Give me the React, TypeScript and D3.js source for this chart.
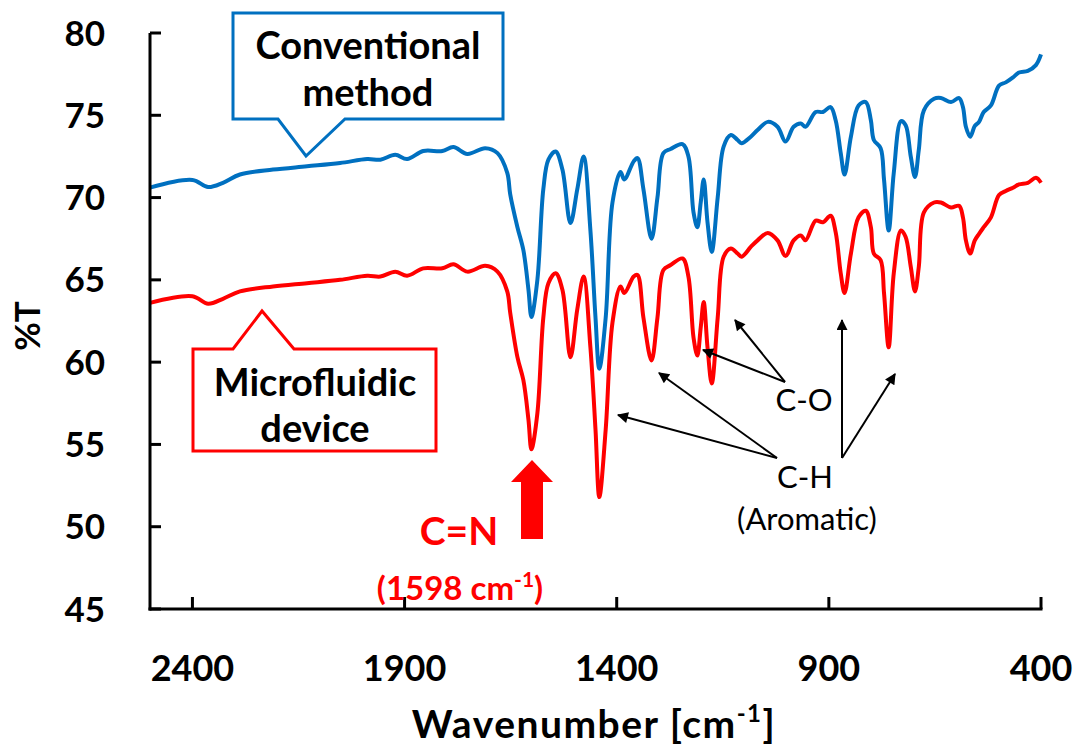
import React from "react";
import * as d3 from "d3";

// wavenumbers (cm-1), shared by both spectra
const wavenumbers = [
  2500, 2400, 2363, 2328, 2288, 2210, 2130, 2052, 1988, 1957, 1922, 1894, 1856, 1811, 1785, 1752,
  1710, 1681, 1658, 1651, 1634, 1620, 1608, 1601, 1587, 1573, 1561, 1544, 1528, 1509, 1493, 1478,
  1462, 1450, 1441, 1426, 1410, 1391, 1382, 1360, 1351, 1337, 1318, 1304, 1290, 1273, 1245, 1231,
  1219, 1210, 1202, 1195, 1186, 1176, 1162, 1148, 1131, 1115, 1106, 1084, 1068, 1044, 1021, 1002,
  983, 966, 955, 931, 914, 896, 884, 872, 863, 848, 830, 813, 801, 794, 778, 770, 759, 747, 730,
  719, 707, 697, 688, 676, 652, 636, 612, 593, 584, 577, 567, 556, 546, 535, 518, 499, 483, 466,
  452, 431, 412, 400,
];

const conventional = [
  70.6, 71.07, 70.64, 70.9, 71.4, 71.7, 71.9, 72.1, 72.34, 72.3, 72.6, 72.34, 72.83, 72.83, 73.07, 72.65,
  73.0, 72.7, 71.5, 70.2, 68.2, 66.8, 64.4, 62.75, 65.0, 70.5, 72.3, 72.8, 71.7, 68.45, 70.5, 72.5,
  68.0, 62.7, 59.6, 62.7, 69.7, 71.55, 71.1, 72.2, 72.4, 70.5, 67.5, 70.0, 72.7, 72.95, 73.25, 72.5,
  69.1, 68.2, 69.7, 71.1, 68.5, 66.7, 70.0, 73.1, 73.8, 73.5, 73.3, 73.7, 74.1, 74.6, 74.3, 73.4,
  74.3, 74.5, 74.3, 75.2, 75.2, 75.5, 74.7, 72.7, 71.4, 73.7, 75.6, 75.8, 74.7, 73.5, 73.0, 71.1, 68.0, 71.5, 74.65,
  74.4, 72.5, 71.25, 72.9, 75.3, 76.0, 76.05, 75.8, 76.05, 75.5, 74.3, 73.7, 74.35, 74.6, 75.2, 75.6, 76.8, 77.0, 77.3,
  77.6, 77.7, 78.05, 78.7,
];

const microfluidic = [
  63.6, 64.0, 63.55, 63.85, 64.3, 64.6, 64.8, 65.0, 65.25, 65.2, 65.5, 65.25, 65.7, 65.7, 65.95, 65.5,
  65.85, 65.5, 64.3, 63.0, 60.3, 58.9, 56.5, 54.7, 56.9, 62.7, 64.8, 65.4, 64.4, 60.3, 63.2, 65.2,
  60.9, 55.9, 51.8, 55.9, 62.4, 64.6, 64.2, 65.2, 65.3, 62.7, 60.1, 62.7, 65.6, 65.9, 66.3, 65.2,
  61.5, 60.4, 62.1, 63.65, 60.9, 58.7, 62.7, 66.4, 66.9, 66.6, 66.4, 67.0, 67.4, 67.85, 67.4, 66.45,
  67.4, 67.7, 67.4, 68.6, 68.5, 68.9, 67.9, 65.4, 64.2, 66.6, 68.8, 69.2, 68.2, 66.6, 66.2, 64.2, 60.9, 65.4, 68.0,
  67.6, 65.8, 64.3, 65.8, 69.1, 69.7, 69.7, 69.4, 69.5, 68.8, 67.4, 66.6, 67.4, 67.8, 68.2, 68.8, 70.15, 70.4, 70.6,
  70.8, 70.9, 71.2, 70.9,
];

const xTicks = [2400, 1900, 1400, 900, 400];
const yTicks = [45, 50, 55, 60, 65, 70, 75, 80];

const W = 1075;
const H = 753;
const left = 150;
const right = 1041;
const top = 33;
const bottom = 609;
const FONT = "Lato, 'Open Sans', sans-serif";
const BLUE = "#0070C0";
const RED = "#FF0000";

function Arrow({ x1, y1, x2, y2 }: { x1: number; y1: number; x2: number; y2: number }) {
  return <line x1={x1} y1={y1} x2={x2} y2={y2} stroke="#000" strokeWidth={2} markerEnd="url(#ah)" />;
}

export default function App() {
  const x = d3.scaleLinear().domain([2500, 400]).range([left, right]);
  const y = d3.scaleLinear().domain([45, 80]).range([bottom, top]);

  const line = d3
    .line<number>()
    .x((_, i) => x(wavenumbers[i]))
    .y((d) => y(d))
    .curve(d3.curveCatmullRom.alpha(0.5));

  return (
    <svg width={W} height={H} style={{ position: "absolute", left: 0, top: 0, background: "#fff" }} fontFamily={FONT}>
      <defs>
        <marker id="ah" viewBox="0 0 10 10" refX="9" refY="5" markerWidth="13" markerHeight="11" orient="auto" markerUnits="userSpaceOnUse">
          <path d="M0,0 L10,5 L0,10 z" fill="#000" />
        </marker>
      </defs>

      {/* curves */}
      <path d={line(conventional) ?? ""} fill="none" stroke={BLUE} strokeWidth={4} strokeLinejoin="round" />
      <path d={line(microfluidic) ?? ""} fill="none" stroke={RED} strokeWidth={4} strokeLinejoin="round" />

      {/* axes */}
      <line x1={left} x2={left} y1={top} y2={bottom + 1.5} stroke="#000" strokeWidth={3} />
      <line x1={left - 1.5} x2={right + 1.5} y1={bottom} y2={bottom} stroke="#000" strokeWidth={3} />
      {yTicks.map((t) => (
        <g key={t}>
          <line x1={left} x2={left + 11} y1={y(t)} y2={y(t)} stroke="#000" strokeWidth={3} />
          <text x={105} y={y(t)} dy="0.36em" textAnchor="end" fontSize={35} fontWeight="bold">
            {t}
          </text>
        </g>
      ))}
      {xTicks.map((t) => (
        <g key={t}>
          <line x1={x(t)} x2={x(t)} y1={bottom} y2={bottom - 12} stroke="#000" strokeWidth={3} />
          <text x={x(t)} y={668} dy="0.36em" textAnchor="middle" fontSize={36} fontWeight="bold">
            {t}
          </text>
        </g>
      ))}
      <text x={594} y={738} textAnchor="middle" fontSize={39} fontWeight="bold" letterSpacing={1.5}>
        Wavenumber [cm<tspan fontSize={24} dy={-16}>-1</tspan>
        <tspan dy={16}>]</tspan>
      </text>
      <text transform="translate(40,326) rotate(-90)" textAnchor="middle" fontSize={35} fontWeight="bold">
        %T
      </text>

      {/* conventional callout */}
      <path
        d="M233,13 L503,13 L503,119 L345,119 L306,156 L278,119 L233,119 Z"
        fill="#fff"
        stroke={BLUE}
        strokeWidth={3}
      />
      <text x={368} y={45} dy="0.36em" textAnchor="middle" fontSize={38} fontWeight="bold">
        Conventional
      </text>
      <text x={368} y={92} dy="0.36em" textAnchor="middle" fontSize={38} fontWeight="bold">
        method
      </text>

      {/* microfluidic callout */}
      <path
        d="M193,349 L233,349 L262,311 L294,349 L436,349 L436,451 L193,451 Z"
        fill="#fff"
        stroke={RED}
        strokeWidth={3}
      />
      <text x={315} y={382} dy="0.36em" textAnchor="middle" fontSize={38} fontWeight="bold">
        Microfluidic
      </text>
      <text x={315} y={428} dy="0.36em" textAnchor="middle" fontSize={38} fontWeight="bold">
        device
      </text>

      {/* C=N marker */}
      <path d="M532,460 L553,482 L543,482 L543,539 L521,539 L521,482 L511,482 Z" fill={RED} />
      <text x={459} y={531} dy="0.36em" textAnchor="middle" fontSize={39} fontWeight="bold" fill={RED}>
        C=N
      </text>
      <text x={460} y={588} dy="0.36em" textAnchor="middle" fontSize={33} fontWeight="bold" fill={RED}>
        (1598 cm<tspan fontSize={21} dy={-13}>-1</tspan>
        <tspan dy={13}>)</tspan>
      </text>

      {/* band annotations */}
      <Arrow x1={785} y1={382} x2={735} y2={320} />
      <Arrow x1={785} y1={382} x2={703} y2={350} />
      <Arrow x1={777} y1={458} x2={618} y2={415} />
      <Arrow x1={777} y1={458} x2={659} y2={373} />
      <Arrow x1={842} y1={458} x2={842} y2={320} />
      <Arrow x1={842} y1={458} x2={895} y2={374} />
      <text x={804} y={400} dy="0.36em" textAnchor="middle" fontSize={31}>
        C-O
      </text>
      <text x={805} y={477} dy="0.36em" textAnchor="middle" fontSize={31}>
        C-H
      </text>
      <text x={807} y={519} dy="0.36em" textAnchor="middle" fontSize={31}>
        (Aromatic)
      </text>
    </svg>
  );
}
